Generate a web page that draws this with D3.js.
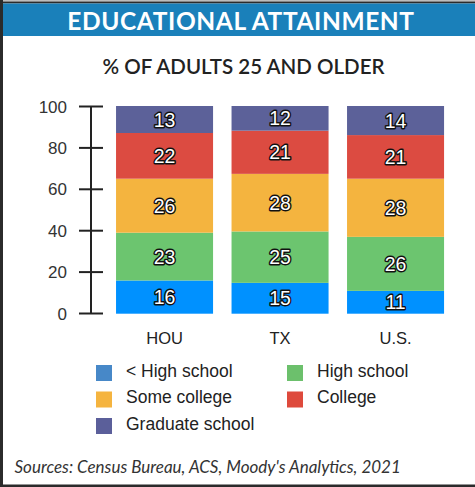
<!DOCTYPE html>
<html>
<head>
<meta charset="utf-8">
<script src="https://cdn.jsdelivr.net/npm/d3@7"></script>
<style>
  html, body { margin: 0; padding: 0; background: #fff; }
  svg { display: block; }
</style>
</head>
<body>
<svg id="chart" width="475" height="487"></svg>
<script>
const regions = ["HOU", "TX", "U.S."];
const levels = ["< High school", "High school", "Some college", "College", "Graduate school"];
const lessHighSchool = [16, 15, 11];
const highSchool = [23, 25, 26];
const someCollege = [26, 28, 28];
const college = [22, 21, 21];
const graduateSchool = [13, 12, 14];
const yTicks = [0, 20, 40, 60, 80, 100];
const barColors = ["#0091ff", "#6cc56f", "#f4b43f", "#dc4b41", "#5c6199"];
const legendColors = ["#4788c8", "#6cc06c", "#f5b43f", "#de4a3c", "#5b5f9a"];

const seriesValues = [lessHighSchool, highSchool, someCollege, college, graduateSchool];
const table = regions.map((r, i) => {
  const row = { region: r };
  levels.forEach((l, j) => row[l] = seriesValues[j][i]);
  return row;
});

const svg = d3.select("#chart");

// frame
svg.append("rect").attr("x", 0).attr("y", 0).attr("width", 475).attr("height", 487).attr("fill", "#fff");
svg.append("rect").attr("x", 0).attr("y", 0).attr("width", 475).attr("height", 1.5).attr("fill", "#bdbdbd");
svg.append("rect").attr("x", 0).attr("y", 1.5).attr("width", 475).attr("height", 2).attr("fill", "#2b2b2b");
svg.append("rect").attr("x", 0).attr("y", 0).attr("width", 3).attr("height", 487).attr("fill", "#2b2b2b");
svg.append("rect").attr("x", 0).attr("y", 484.5).attr("width", 475).attr("height", 2.5).attr("fill", "#2b2b2b");

// header
svg.append("rect").attr("x", 3).attr("y", 3.5).attr("width", 472).attr("height", 32.5).attr("fill", "#1a80ba");
svg.append("text").attr("x", 241).attr("y", 30)
  .attr("text-anchor", "middle").attr("fill", "#fff")
  .style("font-family", "Lato, 'Open Sans', sans-serif").style("font-weight", 700).style("font-size", "24.5px")
  .style("letter-spacing", "0.6px")
  .text("EDUCATIONAL ATTAINMENT");

svg.append("text").attr("x", 243.5).attr("y", 74)
  .attr("text-anchor", "middle").attr("fill", "#222")
  .style("font-family", "Lato, 'Open Sans', sans-serif").style("font-weight", 600).style("font-size", "20.5px")
  .text("% OF ADULTS 25 AND OLDER");

const x = d3.scaleBand().domain(regions).range([106.8, 453.3]).paddingInner(0.16).paddingOuter(0.08);
const y = d3.scaleLinear().domain([0, 100]).range([313, 106]);
const yFrac = d3.scaleLinear().domain([0, 1]).range([313.7, 106]);

const stack = d3.stack().keys(levels).offset(d3.stackOffsetExpand);
const stacked = stack(table);

const groups = svg.append("g").selectAll("g").data(stacked).join("g")
  .attr("fill", (d, i) => barColors[i]);
groups.selectAll("rect").data(d => d).join("rect")
  .attr("x", d => x(d.data.region))
  .attr("width", x.bandwidth())
  .attr("y", d => yFrac(d[1]))
  .attr("height", d => yFrac(d[0]) - yFrac(d[1]));

// labels
const labels = svg.append("g");
stacked.forEach(s => {
  s.forEach(d => {
    labels.append("text")
      .attr("x", x(d.data.region) + x.bandwidth() / 2)
      .attr("y", (yFrac(d[0]) + yFrac(d[1])) / 2 + 7)
      .attr("text-anchor", "middle")
      .attr("fill", "#fff").attr("stroke", "#111").attr("stroke-width", 2.8)
      .attr("stroke-linejoin", "round")
      .style("paint-order", "stroke")
      .style("font-family", "'Liberation Sans', Arial, sans-serif").style("font-size", "19.5px")
      .text(d.data[s.key]);
  });
});

// y axis
const yAxis = d3.axisLeft(y).tickValues(yTicks).tickSize(0).tickPadding(0);
const ag = svg.append("g").attr("transform", "translate(91,0)").call(yAxis);
ag.select(".domain").remove();
ag.append("line").attr("x1", 0).attr("x2", 0).attr("y1", y(100)).attr("y2", y(0))
  .attr("stroke", "#222").attr("stroke-width", 2);
ag.selectAll(".tick").append("line").attr("x1", -12).attr("x2", 12)
  .attr("stroke", "#222").attr("stroke-width", 2);
ag.selectAll(".tick text").attr("x", -24).attr("dy", "0.36em")
  .attr("fill", "#333")
  .style("font-family", "'Liberation Sans', Arial, sans-serif").style("font-size", "17px");

// x axis labels
const xAxis = d3.axisBottom(x).tickSize(0).tickPadding(0);
const xg = svg.append("g").attr("transform", "translate(0,332)").call(xAxis);
xg.select(".domain").remove();
xg.selectAll(".tick text").attr("fill", "#222").attr("dy", "0.71em")
  .style("font-family", "'Liberation Sans', Arial, sans-serif").style("font-size", "16.5px");

// legend
const legendPos = [[96, 365], [287, 365], [96, 391.5], [287, 391.5], [96, 418]];
const lg = svg.append("g");
levels.forEach((l, i) => {
  const [lx, ly] = legendPos[i];
  lg.append("rect").attr("x", lx).attr("y", ly).attr("width", 16).attr("height", 16).attr("fill", legendColors[i]);
  lg.append("text").attr("x", lx + 30).attr("y", ly + 11.5)
    .attr("fill", "#222")
    .style("font-family", "'Liberation Sans', Arial, sans-serif").style("font-size", "17.5px")
    .text(l);
});

// source
svg.append("text").attr("x", 14.5).attr("y", 472.5).attr("fill", "#333")
  .style("font-family", "Lato, 'Open Sans', sans-serif").style("font-style", "italic").style("font-size", "17px")
  .text("Sources: Census Bureau, ACS, Moody's Analytics, 2021");
</script>
</body>
</html>
